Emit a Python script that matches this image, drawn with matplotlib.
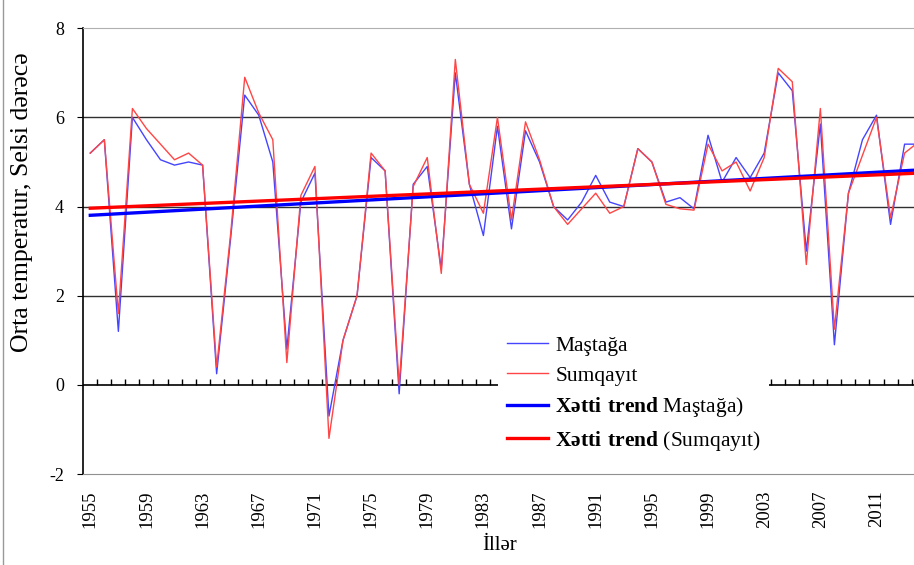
import numpy as np
import matplotlib.pyplot as plt
from matplotlib.lines import Line2D

plt.rcParams['font.family'] = 'Liberation Serif'
plt.rcParams['mathtext.fontset'] = 'custom'
plt.rcParams['mathtext.rm'] = 'Liberation Serif'
plt.rcParams['mathtext.bf'] = 'Liberation Serif:bold'

# orta illik temperatur, 1955-2014
illar = np.arange(1955, 2015)
mastaga = [5.2, 5.5, 1.2, 6.0, 5.5, 5.05, 4.93, 5.0, 4.93, 0.25,
           3.3, 6.5, 6.05, 5.0, 0.8, 4.1, 4.75, -0.7, 1.0, 2.0,
           5.1, 4.8, -0.2, 4.5, 4.9, 2.6, 7.0, 4.5, 3.35, 5.8,
           3.5, 5.7, 5.0, 4.0, 3.7, 4.1, 4.7, 4.1, 4.0, 5.3,
           5.0, 4.1, 4.2, 3.95, 5.6, 4.55, 5.1, 4.65, 5.2, 7.0,
           6.6, 3.0, 5.85, 0.9, 4.3, 5.5, 6.05, 3.6, 5.4, 5.4]
sumqayit = [5.2, 5.5, 1.6, 6.2, 5.75, 5.4, 5.05, 5.2, 4.93, 0.4,
            3.4, 6.9, 6.1, 5.5, 0.5, 4.25, 4.9, -1.2, 1.0, 2.0,
            5.2, 4.8, 0.0, 4.45, 5.1, 2.5, 7.3, 4.5, 3.85, 6.0,
            3.7, 5.9, 5.05, 4.0, 3.6, 3.95, 4.3, 3.85, 4.0, 5.3,
            5.0, 4.05, 3.95, 3.92, 5.4, 4.8, 5.0, 4.35, 5.1, 7.1,
            6.8, 2.7, 6.2, 1.25, 4.3, 5.15, 6.0, 3.75, 5.2, 5.45]
etiket_illeri = list(range(1955, 2012, 4))

# xetti trendler
pm = np.polyfit(illar, mastaga, 1)
ps = np.polyfit(illar, sumqayit, 1)

fig = plt.figure(figsize=(9.14, 5.65), dpi=100)
ax = fig.add_axes([0.0911, 0.161, 0.9089, 0.789])

for v in (2, 4, 6):
    ax.axhline(v, color='#303030', lw=1.0, zorder=1)
ax.axhline(0, color='black', lw=1.2, zorder=1)
ax.vlines(np.arange(1955.5, 2014, 1), 0, 0.14, color='black', lw=1.0, zorder=1)

ax.plot(illar, mastaga, color='#4545ff', lw=1.0, label='Maştağa', zorder=2)
ax.plot(illar, sumqayit, color='#ff4545', lw=1.0, label='Sumqayıt', zorder=3)
ax.plot(illar, np.polyval(pm, illar), color='#0000ff', lw=2.4,
        label=r'$\mathbf{Xətti\ trend}$ Maştağa)', zorder=4)
ax.plot(illar, np.polyval(ps, illar), color='#ff0000', lw=2.4,
        label=r'$\mathbf{Xətti\ trend}$ (Sumqayıt)', zorder=4)

ax.set_xlim(1954.5, 2013.67)
ax.set_ylim(-2, 8)
ax.set_yticks([-2, 0, 2, 4, 6, 8])
ax.set_yticklabels(['-2', '0', '2', '4', '6', '8'], fontsize=13)
ax.set_xticks(etiket_illeri)
ax.set_xticklabels([str(i) for i in etiket_illeri], rotation=90, fontsize=13.5)
ax.tick_params(axis='x', length=0, pad=12)
ax.tick_params(axis='y', length=4, direction='out', pad=10)

ax.spines['right'].set_visible(False)
ax.spines['top'].set_color('#b0b0b0')
ax.spines['bottom'].set_color('#909090')
ax.spines['left'].set_color('black')
ax.spines['left'].set_linewidth(1.2)

leg = ax.legend(loc='center left', bbox_to_anchor=(0.545, 0.302),
                bbox_transform=fig.transFigure, fontsize=15.5, handlelength=1.9,
                handletextpad=0.35, labelspacing=0.45, borderpad=0.4,
                borderaxespad=0, fancybox=False, framealpha=1)
leg.get_frame().set_edgecolor('none')
leg.get_frame().set_facecolor('white')
leg.set_zorder(10)

fig.text(22 / 914, 1 - 202 / 565, 'Orta temperatur, Selsi dərəcə', rotation=90,
         ha='center', va='center', fontsize=18.5)
fig.text(500 / 914, 1 - 546 / 565, 'İllər', ha='center', va='center', fontsize=15)
fig.add_artist(Line2D([3 / 914, 3 / 914], [0, 1], color='#999999', lw=1.0))

fig.savefig('out.png', dpi=100)
